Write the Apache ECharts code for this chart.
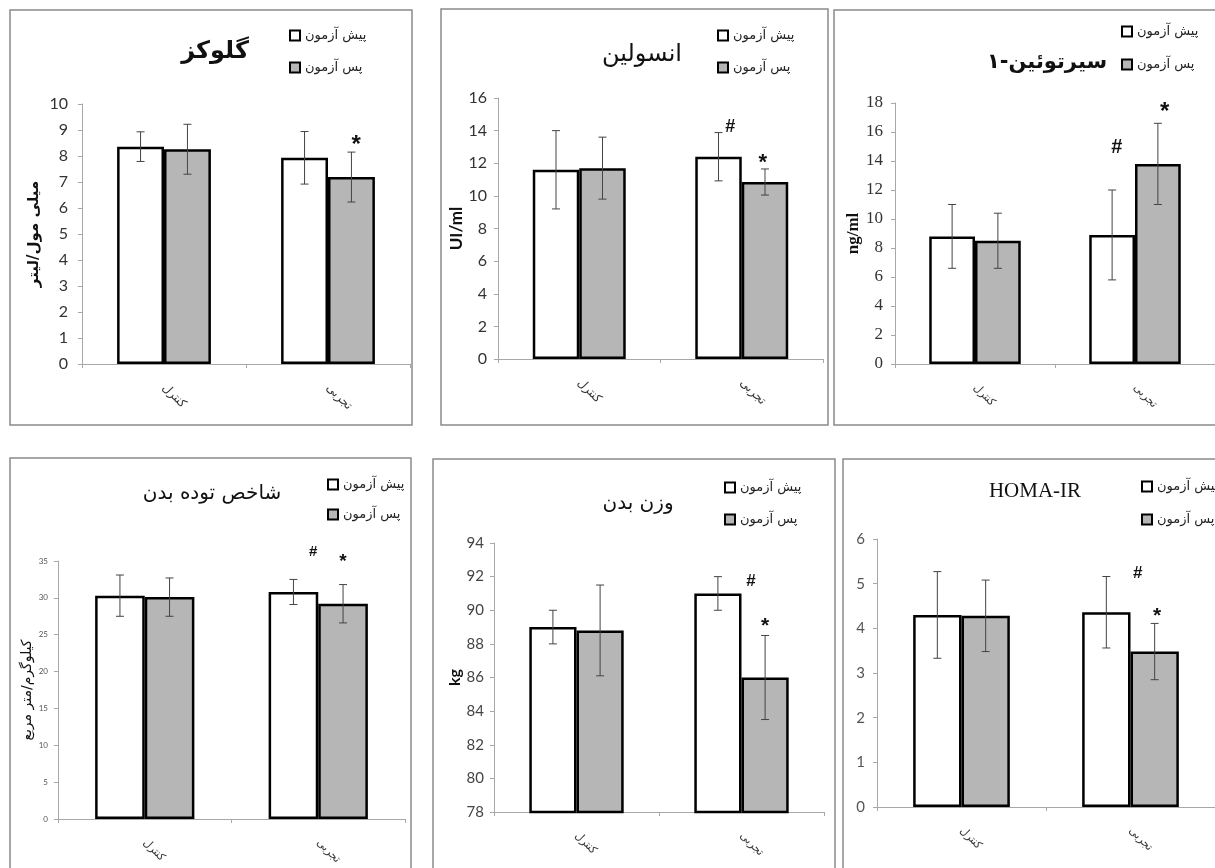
<!DOCTYPE html>
<html><head><meta charset="utf-8">
<script src="https://cdn.jsdelivr.net/npm/echarts@6/dist/echarts.min.js"></script>
<style>html,body{margin:0;padding:0;background:#fff}#c{width:1215px;height:868px}</style>
</head><body><div id="c"></div>
<script>
// ---------- DATA ----------
const categories = ['کنترل', 'تجربی'];
const seriesNames = ['پیش آزمون', 'پس آزمون'];

// Glucose (mmol/L)
const glucoseAxis = [0, 10, 1];
const glucosePre = [8.36, 7.93];
const glucosePreErr = [0.57, 1.01];
const glucosePost = [8.26, 7.19];
const glucosePostErr = [0.96, 0.96];
const glucoseMarks = [{s: 1, c: 1, t: '*', y: 8.6}];

// Insulin (UI/ml)
const insulinAxis = [0, 16, 2];
const insulinPre = [11.6, 12.4];
const insulinPreErr = [2.4, 1.48];
const insulinPost = [11.7, 10.85];
const insulinPostErr = [1.9, 0.8];
const insulinMarks = [{s: 0, c: 1, t: '#', y: 14.2}, {s: 1, c: 1, t: '*', y: 12.3}];

// Sirtuin-1 (ng/ml)
const sirtAxis = [0, 18, 2];
const sirtPre = [8.8, 8.9];
const sirtPreErr = [2.2, 3.1];
const sirtPost = [8.5, 13.8];
const sirtPostErr = [1.9, 2.8];
const sirtMarks = [{s: 0, c: 1, t: '#', y: 14.9}, {s: 1, c: 1, t: '*', y: 17.7}];

// BMI (kg/m2)
const bmiAxis = [0, 35, 5];
const bmiPre = [30.3, 30.8];
const bmiPreErr = [2.8, 1.7];
const bmiPost = [30.1, 29.2];
const bmiPostErr = [2.6, 2.6];
const bmiMarks = [{s: 0, c: 1, t: '#', y: 36.2}, {s: 1, c: 1, t: '*', y: 35.4}];

// Body weight (kg)
const weightAxis = [78, 94, 2];
const weightPre = [89.0, 91.0];
const weightPreErr = [1.0, 1.0];
const weightPost = [88.8, 86.0];
const weightPostErr = [2.7, 2.5];
const weightMarks = [{s: 0, c: 1, t: '#', y: 91.7}, {s: 1, c: 1, t: '*', y: 89.3}];

// HOMA-IR
const homaAxis = [0, 6, 1];
const homaPre = [4.30, 4.36];
const homaPreErr = [0.97, 0.8];
const homaPost = [4.28, 3.48];
const homaPostErr = [0.8, 0.63];
const homaMarks = [{s: 0, c: 1, t: '#', y: 5.24}, {s: 1, c: 1, t: '*', y: 4.38}];

// ---------- PANELS ----------
const AR = 'DejaVu Sans';
const panels = [
  {title: 'گلوکز', axis: glucoseAxis, pre: glucosePre, preErr: glucosePreErr, post: glucosePost, postErr: glucosePostErr, marks: glucoseMarks, unit: 'میلی مول/لیتر'},
  {title: 'انسولین', axis: insulinAxis, pre: insulinPre, preErr: insulinPreErr, post: insulinPost, postErr: insulinPostErr, marks: insulinMarks, unit: 'UI/ml'},
  {title: '{t|۱}{t|-}{t|سیرتوئین}', axis: sirtAxis, pre: sirtPre, preErr: sirtPreErr, post: sirtPost, postErr: sirtPostErr, marks: sirtMarks, unit: 'ng/ml'},
  {title: 'شاخص توده بدن', axis: bmiAxis, pre: bmiPre, preErr: bmiPreErr, post: bmiPost, postErr: bmiPostErr, marks: bmiMarks, unit: 'کیلوگرم/متر مربع'},
  {title: 'وزن بدن', axis: weightAxis, pre: weightPre, preErr: weightPreErr, post: weightPost, postErr: weightPostErr, marks: weightMarks, unit: 'kg'},
  {title: 'HOMA-IR', axis: homaAxis, pre: homaPre, preErr: homaPreErr, post: homaPost, postErr: homaPostErr, marks: homaMarks, unit: ''}
];

// ---------- LAYOUT / STYLE ----------
const BAR_FRAC = 0.286;
const layout = [
  {box: [10, 10, 402, 415], grid: {left: 82, top: 104, width: 328, height: 260},
   title: {x: 210, y: 35, size: 24, weight: 'bold', font: AR},
   legend: {left: 289, top: 29, gap: 19},
   tick: {size: 16, font: 'Lato', color: '#333', margin: 14},
   name: {gap: 40, size: 15, font: AR, weight: 'bold'},
   markDx: [0.1], markSize: 22, xlab: 12},
  {box: [441, 9, 387, 416], grid: {left: 498, top: 98, width: 325, height: 261},
   title: {x: 637, y: 38, size: 24, weight: 'normal', font: AR},
   legend: {left: 717, top: 29, gap: 19},
   tick: {size: 16, font: 'Lato', color: '#333', margin: 11},
   name: {gap: 33, size: 17, font: 'Lato', weight: 'bold'},
   markDx: [0.25, -0.05], markSize: 20, xlab: 12},
  {box: [834, 10, 390, 415], grid: {left: 895, top: 103, width: 320, height: 261},
   title: {x: 1042, y: 47, size: 21, weight: 'bold', font: AR},
   legend: {left: 1121, top: 25, gap: 20},
   tick: {size: 17, font: 'Liberation Serif', color: '#333', margin: 12},
   name: {gap: 32, size: 17, font: 'Liberation Serif', weight: 'bold'},
   markDx: [0.1, 0.15], markSize: 22, xlab: 11},
  {box: [10, 458, 401, 420], grid: {left: 58, top: 561, width: 347, height: 258},
   title: {x: 207, y: 479, size: 20, weight: 'normal', font: AR},
   legend: {left: 327, top: 478, gap: 17},
   tick: {size: 8, font: 'Lato', color: '#555', margin: 10},
   name: {gap: 22, size: 14, font: AR, weight: 'normal'},
   markDx: [0.4, 0], markSize: 17, xlab: 11},
  {box: [433, 459, 402, 420], grid: {left: 494, top: 543, width: 330, height: 269},
   title: {x: 633, y: 489, size: 20, weight: 'normal', font: AR},
   legend: {left: 724, top: 481, gap: 19},
   tick: {size: 15, font: 'Lato', color: '#444', margin: 10},
   name: {gap: 31, size: 16, font: 'Lato', weight: 'bold'},
   markDx: [0.7, 0], markSize: 19, xlab: 11},
  {box: [843, 459, 380, 420], grid: {left: 877, top: 539, width: 338, height: 268},
   title: {x: 1030, y: 476, size: 21, weight: 'normal', font: 'Liberation Serif'},
   legend: {left: 1141, top: 480, gap: 20},
   tick: {size: 15, font: 'Lato', color: '#555', margin: 12},
   name: {gap: 30, size: 14, font: AR, weight: 'normal'},
   markDx: [0.65, 0.05], markSize: 19, xlab: 11}
];

// ---------- BUILD ----------
const grids = [], xAxes = [], yAxes = [], series = [], titles = [], legends = [], graphics = [];
const axisGray = '#a8a8a8';

panels.forEach((p, i) => {
  const L = layout[i];
  graphics.push({type: 'rect', shape: {x: L.box[0], y: L.box[1], width: L.box[2], height: L.box[3]},
    style: {fill: 'none', stroke: '#8a8a8a', lineWidth: 1.5}, silent: true, z: -1});
  grids.push(Object.assign({containLabel: false}, L.grid));
  const ts = {fontFamily: L.title.font, fontSize: L.title.size, fontWeight: L.title.weight, color: '#111'};
  titles.push({text: p.title, left: L.title.x, top: L.title.y, textAlign: 'center',
    textStyle: Object.assign({}, ts, {rich: {t: Object.assign({}, ts)}})});
  legends.push({data: seriesNames, orient: 'vertical', left: L.legend.left, top: L.legend.top,
    itemGap: L.legend.gap, itemWidth: 10, itemHeight: 10, icon: 'rect', selectedMode: false, padding: 0,
    textStyle: {fontFamily: AR, fontSize: 13, color: '#222'}});
  xAxes.push({type: 'category', gridIndex: i, data: categories,
    axisLine: {show: true, lineStyle: {color: axisGray, width: 1}},
    axisTick: {show: true, length: 4, lineStyle: {color: axisGray}},
    axisLabel: {rotate: -45, fontFamily: AR, fontSize: L.xlab, color: '#333', margin: 22}});
  yAxes.push({type: 'value', gridIndex: i, min: p.axis[0], max: p.axis[1], interval: p.axis[2],
    axisLine: {show: true, lineStyle: {color: axisGray, width: 1}},
    axisTick: {show: true, length: 4, lineStyle: {color: axisGray}},
    splitLine: {show: false},
    axisLabel: {fontFamily: L.tick.font, fontSize: L.tick.size, color: L.tick.color, margin: L.tick.margin},
    name: p.unit, nameLocation: 'middle', nameRotate: 90, nameGap: L.name.gap,
    nameTextStyle: {fontFamily: L.name.font, fontSize: L.name.size, fontWeight: L.name.weight, color: '#111'}});

  const barCommon = {type: 'bar', xAxisIndex: i, yAxisIndex: i, barWidth: (BAR_FRAC * 100) + '%', barGap: '0%',
    emphasis: {disabled: true}, clip: true};
  series.push(Object.assign({}, barCommon, {name: seriesNames[0], data: p.pre,
    itemStyle: {color: '#ffffff', borderColor: '#000', borderWidth: 2.5}}));
  series.push(Object.assign({}, barCommon, {name: seriesNames[1], data: p.post,
    itemStyle: {color: '#b6b6b6', borderColor: '#000', borderWidth: 2.5}}));

  const errData = [];
  p.pre.forEach((v, c) => errData.push([c, v, p.preErr[c], 0]));
  p.post.forEach((v, c) => errData.push([c, v, p.postErr[c], 1]));
  series.push({type: 'custom', name: 'err' + i, xAxisIndex: i, yAxisIndex: i, z: 5, silent: true,
    data: errData,
    renderItem: function (params, api) {
      const c = api.value(0), m = api.value(1), e = api.value(2), side = api.value(3);
      const band = api.size([1, 0])[0];
      const bw = band * BAR_FRAC;
      const x = api.coord([c, m])[0] + (side === 0 ? -bw / 2 : bw / 2);
      const yT = api.coord([c, m + e])[1], yB = api.coord([c, m - e])[1];
      const cap = 4, st = {stroke: '#444', lineWidth: 1};
      return {type: 'group', children: [
        {type: 'line', shape: {x1: x, y1: yT, x2: x, y2: yB}, style: st},
        {type: 'line', shape: {x1: x - cap, y1: yT, x2: x + cap, y2: yT}, style: st},
        {type: 'line', shape: {x1: x - cap, y1: yB, x2: x + cap, y2: yB}, style: st}
      ]};
    }});

  const marks = p.marks;
  series.push({type: 'custom', name: 'mark' + i, xAxisIndex: i, yAxisIndex: i, z: 6, silent: true,
    data: marks.map(mk => [mk.c, mk.y, mk.s]),
    renderItem: function (params, api) {
      const mk = marks[params.dataIndex];
      const band = api.size([1, 0])[0];
      const bw = band * BAR_FRAC;
      const pt = api.coord([mk.c, mk.y]);
      const x = pt[0] + (mk.s === 0 ? -bw / 2 : bw / 2) + (L.markDx[params.dataIndex] || 0) * bw;
      const fs = mk.t === '*' ? L.markSize + 2 : L.markSize - 2;
      const y = pt[1] + (mk.t === '*' ? fs * 0.22 : 0);
      return {type: 'text', x: x, y: y, style: {text: mk.t, fontFamily: 'Liberation Sans', fontWeight: 'bold',
        fontSize: fs, fill: '#111', align: 'center', verticalAlign: 'middle'}};
    }});
});

const chart = echarts.init(document.getElementById('c'), null, {renderer: 'canvas'});
chart.setOption({
  animation: false,
  backgroundColor: '#fff',
  title: titles,
  legend: legends,
  grid: grids,
  xAxis: xAxes,
  yAxis: yAxes,
  series: series,
  graphic: graphics
});
</script>
</body></html>
